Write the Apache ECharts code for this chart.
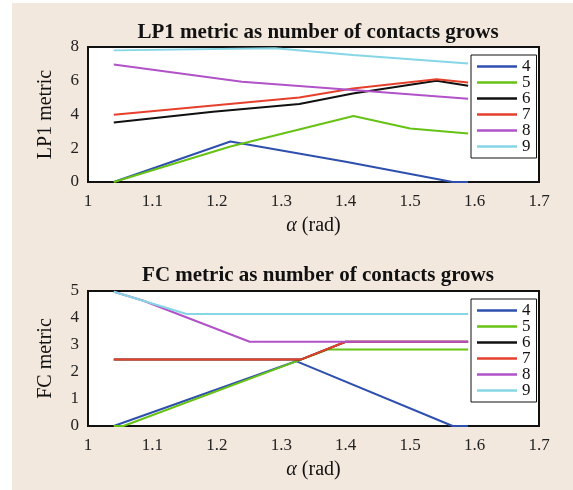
<!DOCTYPE html>
<html><head><meta charset="utf-8">
<script src="https://cdn.jsdelivr.net/npm/echarts@6/dist/echarts.min.js"></script>
<style>html,body{margin:0;padding:0;background:#fff;}#c{width:573px;height:490px;}</style>
</head><body><div id="c"></div>
<script>
// ---- data ----
const seriesNames = ['4','5','6','7','8','9'];
const seriesColors = ['#2f4fae','#66c214','#111111','#e6402c','#b152c8','#86d6e6'];
const xTicks = [1,1.1,1.2,1.3,1.4,1.5,1.6,1.7];
const lp1Ticks = [0,2,4,6,8];
const fcTicks = [0,1,2,3,4,5];

const lp1_4 = [[1.04,0],[1.221,2.40],[1.40,1.20],[1.566,0],[1.59,0]];
const lp1_5 = [[1.04,0],[1.221,2.10],[1.412,3.91],[1.50,3.17],[1.59,2.87]];
const lp1_6 = [[1.04,3.52],[1.194,4.17],[1.328,4.62],[1.411,5.25],[1.541,6.00],[1.59,5.70]];
const lp1_7 = [[1.04,3.99],[1.328,5.01],[1.411,5.54],[1.541,6.09],[1.59,5.90]];
const lp1_8 = [[1.04,6.96],[1.239,5.94],[1.411,5.45],[1.59,4.93]];
const lp1_9 = [[1.04,7.80],[1.29,7.92],[1.411,7.52],[1.59,7.02]];

const fc_4 = [[1.04,0],[1.323,2.40],[1.566,0],[1.59,0]];
const fc_5 = [[1.04,0],[1.055,0],[1.372,2.83],[1.59,2.83]];
const fc_6 = [[1.04,2.46],[1.33,2.46],[1.40,3.12],[1.59,3.12]];
const fc_7 = [[1.04,2.46],[1.33,2.46],[1.40,3.12],[1.59,3.12]];
const fc_8 = [[1.04,4.975],[1.085,4.646],[1.251,3.12],[1.59,3.12]];
const fc_9 = [[1.04,4.975],[1.153,4.15],[1.59,4.15]];

const lp1Data = [lp1_4,lp1_5,lp1_6,lp1_7,lp1_8,lp1_9];
const fcData = [fc_4,fc_5,fc_6,fc_7,fc_8,fc_9];

// ---- chart ----
const FONT = 'Liberation Serif';
const chart = echarts.init(document.getElementById('c'));
function xAxis(gi){
  return {type:'value', gridIndex:gi, min:xTicks[0], max:xTicks[xTicks.length-1], interval:0.1,
    name:'{i|α} (rad)', nameLocation:'middle', nameGap:34,
    nameTextStyle:{fontFamily:FONT,fontSize:20,color:'#111',rich:{i:{fontFamily:FONT,fontSize:20,fontStyle:'italic',color:'#111'}}},
    axisLine:{show:false}, axisTick:{show:false},
    axisLabel:{fontFamily:FONT,fontSize:17,color:'#222',margin:11},
    splitLine:{show:true,lineStyle:{color:'#ead8c6',width:1}}};
}
function yAxis(gi,ticks,name){
  return {type:'value', gridIndex:gi, min:ticks[0], max:ticks[ticks.length-1], interval:ticks[1]-ticks[0],
    name:name, nameLocation:'middle', nameGap:32, nameRotate:90,
    nameTextStyle:{fontFamily:FONT,fontSize:20,color:'#111'},
    axisLine:{show:false}, axisTick:{show:false},
    axisLabel:{fontFamily:FONT,fontSize:17,color:'#222',margin:9},
    splitLine:{show:true,lineStyle:{color:'#ead8c6',width:1}}};
}
function legend(top){
  return {show:true, orient:'vertical', left:471, top:top, data:seriesNames,
    icon:'rect', itemWidth:40, itemHeight:2.5, itemGap:-1,
    backgroundColor:'#fff', borderColor:'#111', borderWidth:1, padding:[3,6,3,6],
    textStyle:{fontFamily:FONT,fontSize:17,color:'#111',lineHeight:16}};
}
const series = [];
seriesNames.forEach((n,i)=>{
  series.push({name:n,type:'line',xAxisIndex:0,yAxisIndex:0,data:lp1Data[i],symbol:'none',
    color:seriesColors[i],lineStyle:{width:2,color:seriesColors[i]},z:3+i});
});
seriesNames.forEach((n,i)=>{
  series.push({name:n,type:'line',xAxisIndex:1,yAxisIndex:1,data:fcData[i],symbol:'none',
    color:seriesColors[i],lineStyle:{width:2,color:seriesColors[i]},z:3+i});
});
chart.setOption({
  animation:false,
  backgroundColor:'#fff',
  graphic:[{type:'rect',shape:{x:12,y:3,width:561,height:487},style:{fill:'#f3e8de'},z:-10,silent:true}],
  title:[
    {text:'LP1 metric as number of contacts grows', left:313, textAlign:'center', top:17,
      textStyle:{fontFamily:FONT,fontSize:21,fontWeight:'bold',color:'#111'}},
    {text:'FC metric as number of contacts grows', left:313, textAlign:'center', top:260,
      textStyle:{fontFamily:FONT,fontSize:21,fontWeight:'bold',color:'#111'}}
  ],
  grid:[
    {left:88,top:47,width:451,height:135,show:true,backgroundColor:'#fff',borderColor:'#111',borderWidth:2,z:2},
    {left:88,top:291,width:451,height:135,show:true,backgroundColor:'#fff',borderColor:'#111',borderWidth:2,z:2}
  ],
  xAxis:[xAxis(0),xAxis(1)],
  yAxis:[yAxis(0,lp1Ticks,'LP1 metric'),yAxis(1,fcTicks,'FC metric')],
  legend:[legend(55),legend(299)],
  series:series
});
</script></body></html>
